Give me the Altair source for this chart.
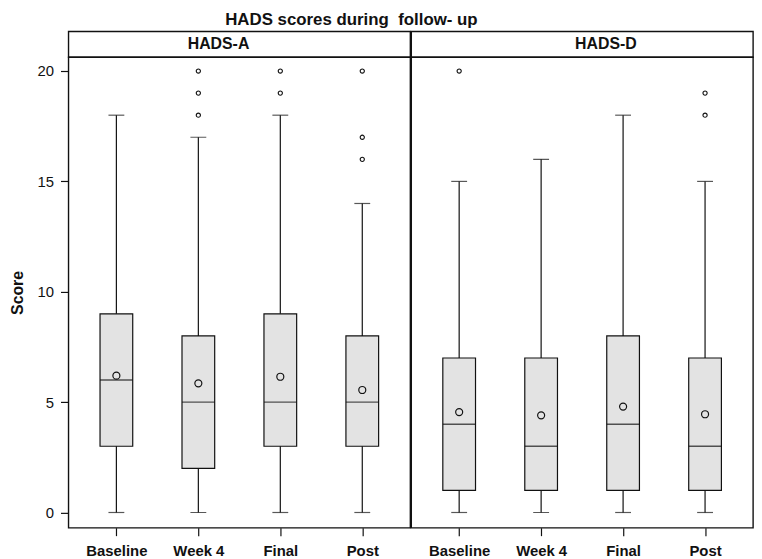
import altair as alt
import pandas as pd

visits = ["Baseline", "Week 4", "Final", "Post"]

# HADS-A
a_low = [0, 0, 0, 0]
a_q1 = [3, 2, 3, 3]
a_median = [6, 5, 5, 5]
a_q3 = [9, 8, 9, 8]
a_high = [18, 17, 18, 14]
a_mean = [6.2, 5.85, 6.15, 5.55]
a_out_visit = ["Week 4", "Week 4", "Week 4", "Final", "Final", "Post", "Post", "Post"]
a_out_value = [18, 19, 20, 19, 20, 16, 17, 20]

# HADS-D
d_low = [0, 0, 0, 0]
d_q1 = [1, 1, 1, 1]
d_median = [4, 3, 4, 3]
d_q3 = [7, 7, 8, 7]
d_high = [15, 16, 18, 15]
d_mean = [4.55, 4.4, 4.8, 4.45]
d_out_visit = ["Baseline", "Post", "Post"]
d_out_value = [20, 18, 19]

y_ticks = [0, 5, 10, 15, 20]

FONT = "Liberation Sans"
INK = "#111111"
W, H, STRIP_H = 345, 475, 26

yscale = alt.Scale(domain=[-0.69, 20.63], nice=False, zero=False)
xscale = alt.Scale(type="point", domain=visits, padding=0.585)


def panel(name, low, q1, med, q3, high, mean, out_visit, out_value, first, label_dx):
    stats = pd.DataFrame(dict(visit=visits, low=low, q1=q1, median=med, q3=q3,
                              high=high, mean=mean))
    outl = pd.DataFrame(dict(visit=out_visit, value=out_value))

    if first:
        yaxis = alt.Axis(values=y_ticks, title="Score", grid=False, domain=False,
                         tickSize=8, tickWidth=1.2, tickColor=INK,
                         labelFontSize=15, labelColor=INK, labelPadding=7, labelFont=FONT,
                         titleFontSize=16, titleFontWeight="bold", titleColor=INK,
                         titleFont=FONT, titlePadding=12)
    else:
        yaxis = None

    xaxis = alt.Axis(title=None, labelAngle=0, domain=False, grid=False,
                     tickSize=8, tickWidth=1.2, tickColor=INK,
                     labelFontSize=15, labelFontWeight="bold", labelColor=INK,
                     labelFont=FONT, labelPadding=8)

    def X():
        return alt.X("visit:N", scale=xscale, axis=xaxis)

    def Y(f):
        return alt.Y(f, type="quantitative", scale=yscale, axis=yaxis)

    base = alt.Chart(stats)
    whisk = base.mark_rule(color=INK, strokeWidth=1.2).encode(x=X(), y=Y("low"), y2="high")
    box = base.mark_bar(size=33, fill="#e3e3e3", stroke=INK, strokeWidth=1.2).encode(
        x=X(), y=Y("q1"), y2="q3")
    cap_lo = base.mark_tick(orient="horizontal", size=16, thickness=1.2, color=INK).encode(
        x=X(), y=Y("low"))
    cap_hi = base.mark_tick(orient="horizontal", size=16, thickness=1.2, color=INK).encode(
        x=X(), y=Y("high"))
    med_t = base.mark_tick(orient="horizontal", size=33, thickness=1.5, color=INK).encode(
        x=X(), y=Y("median"))
    mean_p = base.mark_point(shape="circle", size=50, filled=False, color=INK,
                             strokeWidth=1.2, opacity=1).encode(x=X(), y=Y("mean"))
    out_p = alt.Chart(outl).mark_point(shape="circle", size=18, filled=False, color=INK,
                                       strokeWidth=1.1, opacity=1).encode(x=X(), y=Y("value"))

    plot = alt.layer(whisk, box, cap_lo, cap_hi, med_t, mean_p, out_p).properties(
        width=W, height=H)

    strip = alt.Chart(pd.DataFrame({"panel": [name]})).mark_text(
        fontSize=16, fontWeight="bold", font=FONT, color=INK, dx=label_dx
    ).encode(
        x=alt.X("panel:N", axis=None, scale=alt.Scale(type="point", padding=0.5)),
        text="panel:N",
    ).properties(width=W, height=STRIP_H)

    return alt.vconcat(strip, plot, spacing=0, bounds="flush")


pa = panel("HADS-A", a_low, a_q1, a_median, a_q3, a_high, a_mean,
           a_out_visit, a_out_value, True, -21)
pd_ = panel("HADS-D", d_low, d_q1, d_median, d_q3, d_high, d_mean,
            d_out_visit, d_out_value, False, 24)

chart = alt.hconcat(pa, pd_, spacing=-1).properties(
    title=alt.TitleParams("HADS scores during\u00a0 follow- up", fontSize=17, fontWeight="bold",
                          font=FONT, color=INK, anchor="middle", offset=2, dx=-30),
    padding=0,
).configure_view(stroke=INK, strokeWidth=1.4)

chart.save("out.html", embed_options={"renderer": "svg", "actions": False})
